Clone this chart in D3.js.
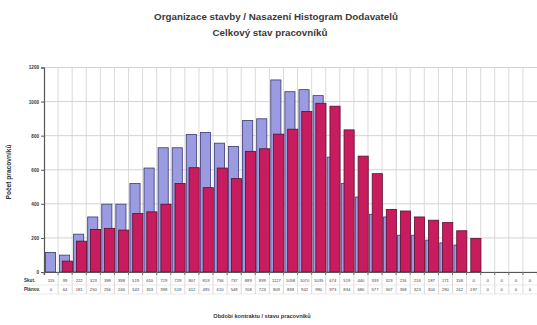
<!DOCTYPE html>
<html>
<head>
<meta charset="utf-8">
<script src="https://cdn.jsdelivr.net/npm/d3@7"></script>
<style>
  html, body { margin: 0; padding: 0; background: #ffffff; }
  svg { display: block; font-family: "Liberation Sans", Arial, sans-serif; }
</style>
</head>
<body>
<svg id="chart" width="537" height="325"></svg>
<script>
// Reporting periods (columns of the histogram)
const periods = d3.range(1, 36).map(String);

// Planned headcount per period
const planned = [115, 99, 222, 323, 398, 398, 519, 610, 729, 729, 807, 819, 756, 737, 889, 899,
                 1127, 1058, 1070, 1035, 674, 519, 440, 339, 323, 216, 216, 187, 171, 158, 0,
                 0, 0, 0, 0];

// Actual headcount per period
const actual = [0, 64, 181, 250, 256, 246, 343, 353, 398, 519, 612, 495, 610, 548, 708, 723,
                809, 838, 942, 990, 973, 834, 680, 577, 367, 358, 323, 304, 290, 242, 197,
                0, 0, 0, 0];

const yTicks = [0, 200, 400, 600, 800, 1000, 1200];
const rowLabels = ["Skut.", "Plánov."];

const title = "Organizace stavby / Nasazení Histogram Dodavatelů";
const subtitle = "Celkový stav pracovníků";
const yTitle = "Počet pracovníků";
const xTitle = "Období kontraktu / stavu pracovníků";

const svg = d3.select("#chart");
const m = { left: 44, right: 537, top: 67.5, bottom: 272 };

const x = d3.scaleBand().domain(periods).range([m.left, m.right]).padding(0);
const y = d3.scaleLinear().domain([0, 1200]).range([m.bottom, m.top]);
const w = x.bandwidth();

// Titles
svg.append("text").attr("x", 276).attr("y", 20).attr("text-anchor", "middle")
  .attr("font-size", 9.8).attr("font-weight", "bold").attr("fill", "#3a3a3a").text(title);
svg.append("text").attr("x", 270).attr("y", 36).attr("text-anchor", "middle")
  .attr("font-size", 9.8).attr("font-weight", "bold").attr("fill", "#3a3a3a").text(subtitle);

// Horizontal grid
svg.append("g").selectAll("line").data(yTicks).join("line")
  .attr("x1", m.left).attr("x2", m.right)
  .attr("y1", d => y(d)).attr("y2", d => y(d))
  .attr("stroke", "#c8c8c8").attr("stroke-width", 0.8);

// Vertical grid at period boundaries (runs down through the data table)
svg.append("g").selectAll("line").data(periods.slice(1)).join("line")
  .attr("x1", d => x(d)).attr("x2", d => x(d))
  .attr("y1", m.top).attr("y2", 294)
  .attr("stroke", "#d2d2d2").attr("stroke-width", 0.8);

// Planned bars (behind)
svg.append("g").selectAll("rect").data(planned).join("rect")
  .attr("x", (d, i) => x(periods[i]) + w * 0.1)
  .attr("width", w * 0.72)
  .attr("y", d => y(d))
  .attr("height", d => y(0) - y(d))
  .attr("fill", "#9a9be0")
  .attr("stroke", "#3a3a72").attr("stroke-width", d => d > 0 ? 0.8 : 0);

// Actual bars (front, overlapping)
svg.append("g").selectAll("rect").data(actual).join("rect")
  .attr("x", (d, i) => x(periods[i]) + w * 0.3)
  .attr("width", w * 0.72)
  .attr("y", d => y(d))
  .attr("height", d => y(0) - y(d))
  .attr("fill", "#c91c5f")
  .attr("stroke", "#5a1030").attr("stroke-width", d => d > 0 ? 0.8 : 0);

// Y axis
const yAxis = d3.axisLeft(y).tickValues(yTicks).tickSize(3).tickPadding(2).tickFormat(d3.format("d"));
const gy = svg.append("g").attr("transform", `translate(${m.left},0)`).call(yAxis);
gy.select(".domain").attr("stroke", "#555").attr("stroke-width", 1.2);
gy.selectAll(".tick line").attr("stroke", "#555");
gy.selectAll("text").attr("font-size", 4.6).attr("fill", "#333").attr("font-weight", "bold");

// X axis baseline with period ticks
const xAxis = d3.axisBottom(x).tickSize(3).tickFormat("");
const gx = svg.append("g").attr("transform", `translate(0,${m.bottom})`).call(xAxis);
gx.select(".domain").attr("stroke", "#555").attr("stroke-width", 1.2);
gx.selectAll(".tick line").attr("stroke", "#777")
  .attr("transform", `translate(${-w / 2},0)`);

// Data table under the axis
const rows = [planned, actual];
const rowY = [281.5, 290.5];
rows.forEach((vals, r) => {
  svg.append("text").attr("x", 24).attr("y", rowY[r])
    .attr("font-size", 4.6).attr("font-weight", "bold").attr("fill", "#333")
    .text(rowLabels[r]);
  svg.append("g").selectAll("text").data(vals).join("text")
    .attr("x", (d, i) => x(periods[i]) + w / 2)
    .attr("y", rowY[r])
    .attr("text-anchor", "middle")
    .attr("font-size", 4.2).attr("fill", "#444")
    .text(d => d);
});
svg.append("line").attr("x1", 22).attr("x2", m.right).attr("y1", 285).attr("y2", 285)
  .attr("stroke", "#dcdcdc").attr("stroke-width", 0.6);
svg.append("line").attr("x1", 22).attr("x2", m.right).attr("y1", 294).attr("y2", 294)
  .attr("stroke", "#dcdcdc").attr("stroke-width", 0.6);

// Axis titles
svg.append("text")
  .attr("transform", "translate(11,172) rotate(-90)")
  .attr("text-anchor", "middle")
  .attr("font-size", 6.6).attr("font-weight", "bold").attr("fill", "#333")
  .text(yTitle);
svg.append("text").attr("x", 262).attr("y", 318).attr("text-anchor", "middle")
  .attr("font-size", 5.6).attr("font-weight", "bold").attr("fill", "#333")
  .text(xTitle);
</script>
</body>
</html>
